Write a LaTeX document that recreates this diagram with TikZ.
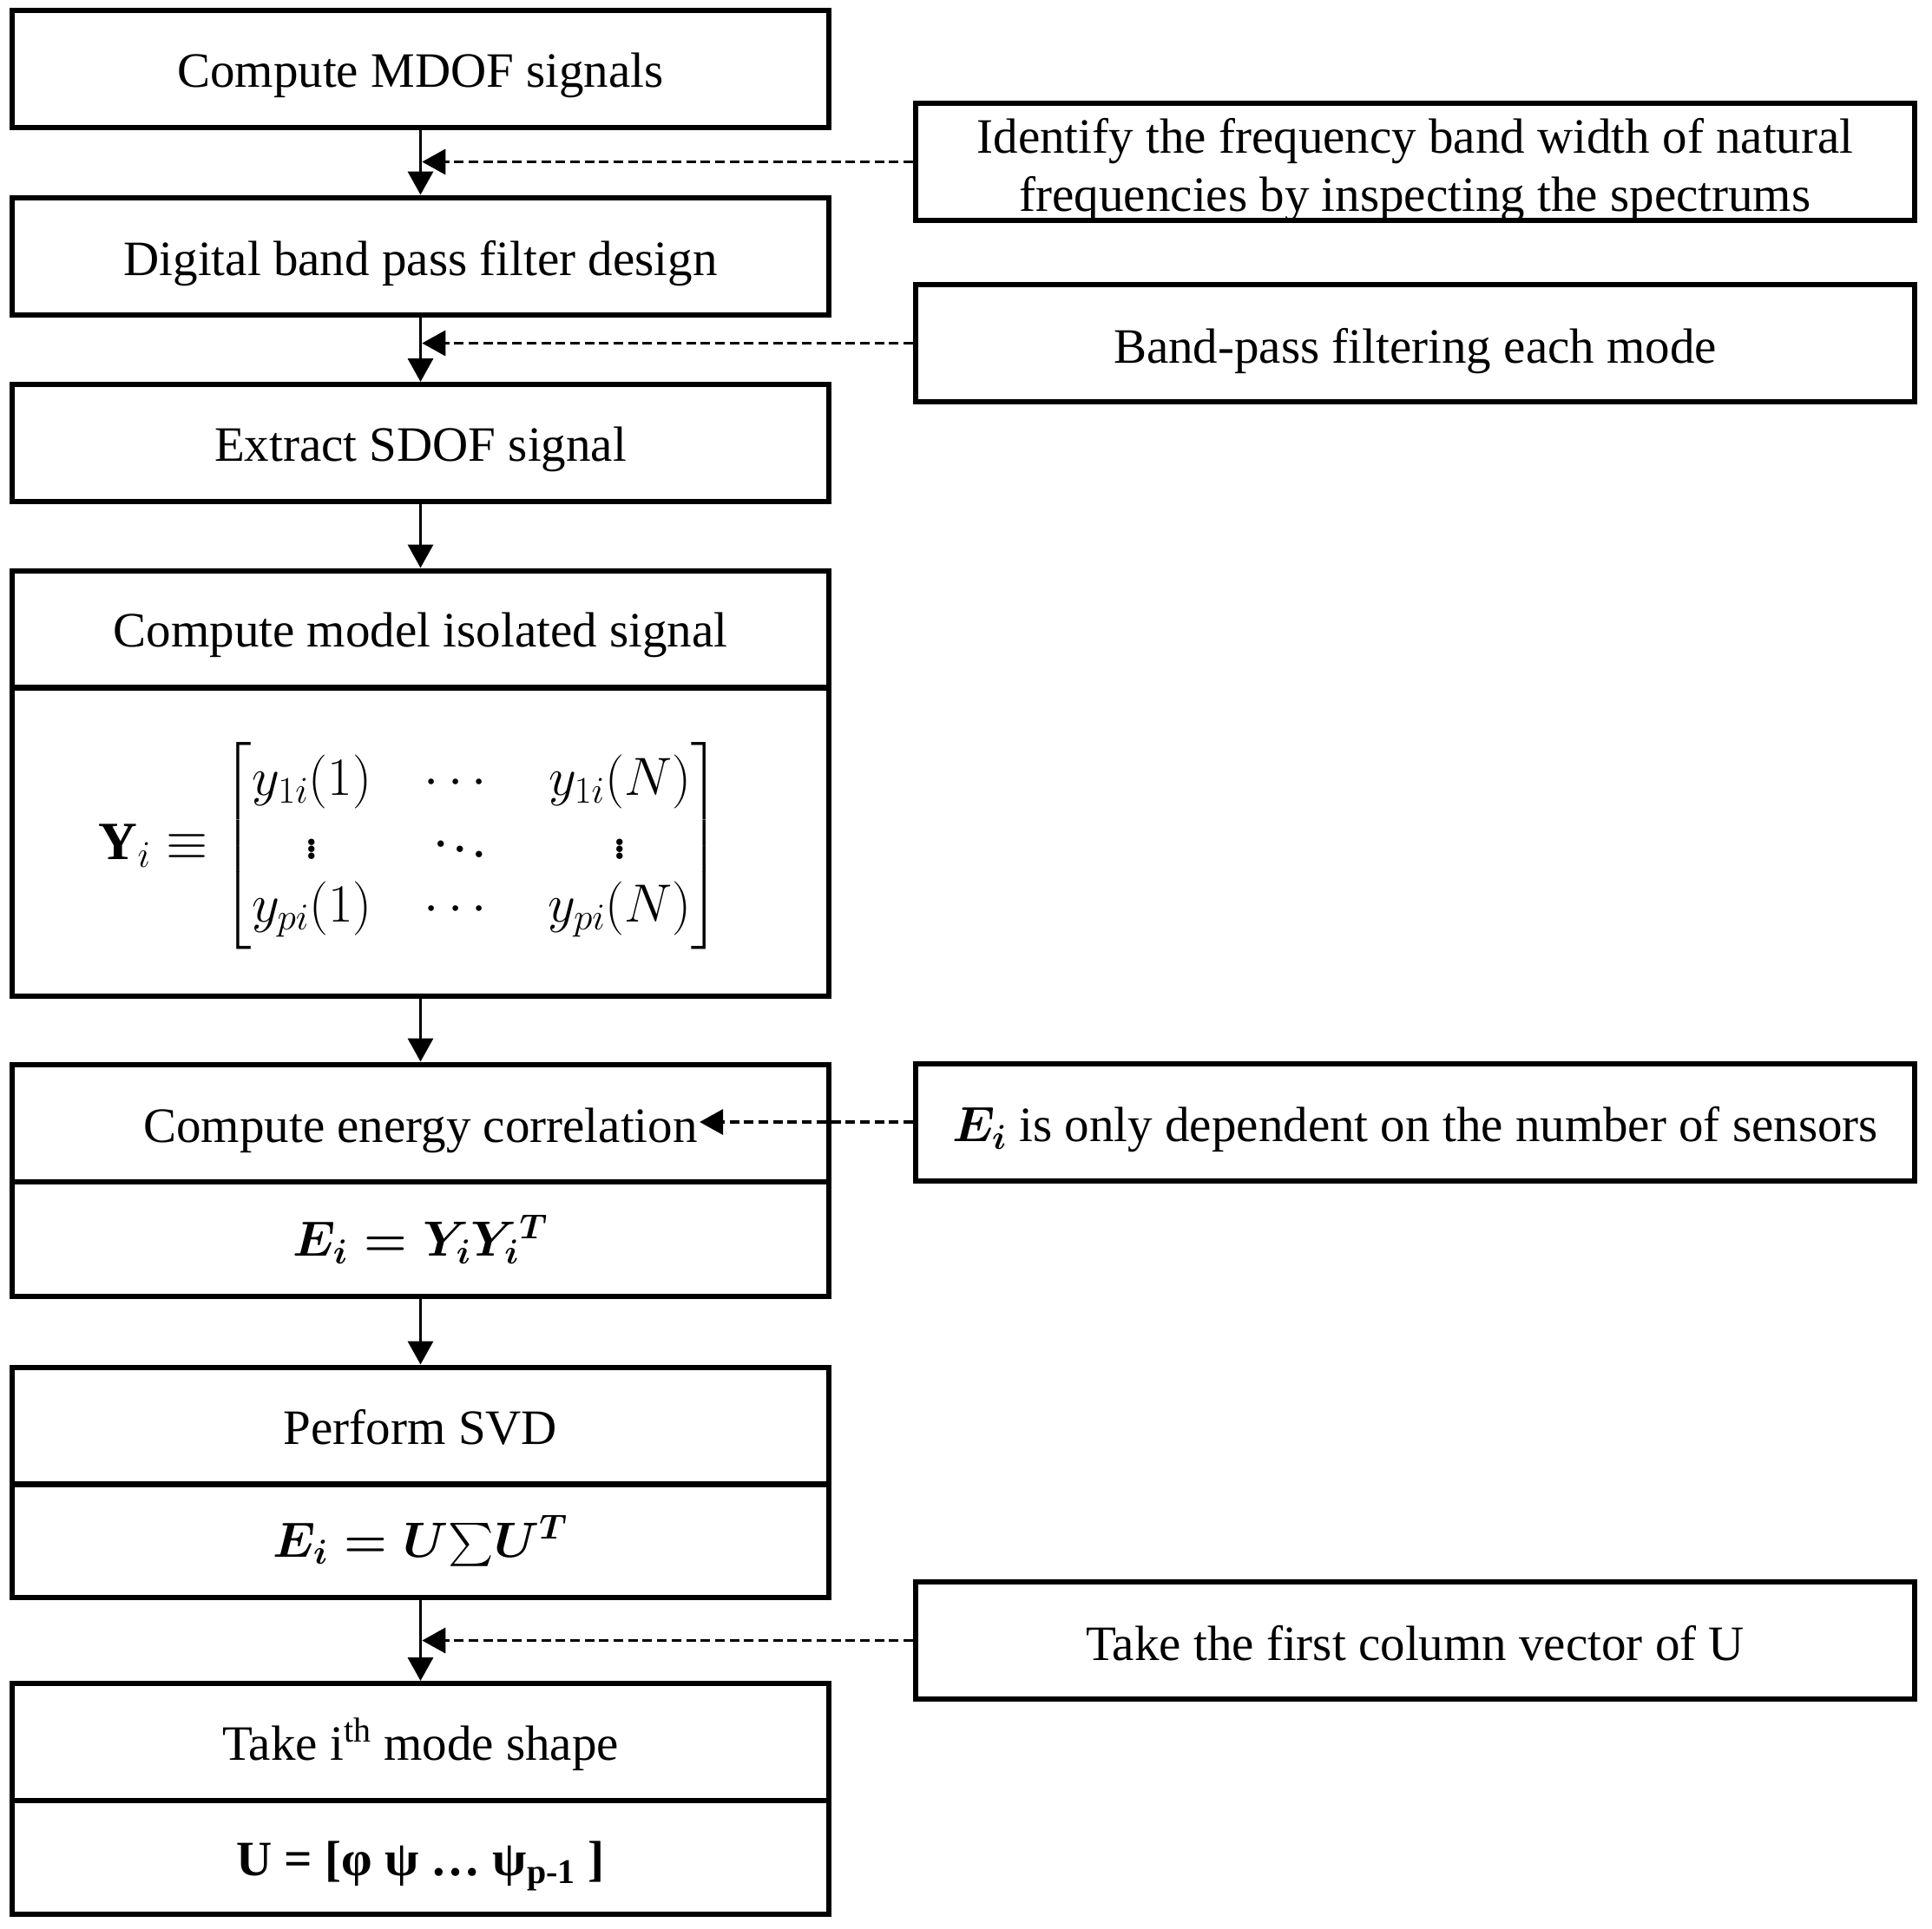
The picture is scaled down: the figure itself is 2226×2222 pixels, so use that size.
\RequirePackage{fix-cm}
\documentclass[tikz,border=0pt]{standalone}
\usepackage{amsmath}
\usepackage{fontspec}
\setmainfont{Liberation Serif}
\usetikzlibrary{arrows.meta}
\newcommand{\boxfont}{\fontsize{28.5}{33.5}\selectfont}
\newcommand{\matfont}{\fontsize{31}{36.5}\selectfont}
\newcommand{\lowr}[2]{\raisebox{-#1}[\height][\depth]{#2}}
\begin{document}
\begin{tikzpicture}[x=0.5pt,y=-0.5pt,
  box/.style={draw, line width=3pt, minimum width=470.5pt, minimum height=67.5pt, inner sep=0pt, align=center, font=\boxfont},
  rbox/.style={box, minimum width=575.5pt},
  txt/.style={inner sep=1pt, font=\boxfont},
  arr/.style={line width=1.8pt, -{Triangle[length=13.5pt,width=14.5pt]}},
  darr/.style={arr, dash pattern=on 5.5pt off 2.85pt},
]
\useasboundingbox (0,0) rectangle (2226,2222);
% left column
\node[box] (b1) at (484.5,79.5) {\lowr{3.6pt}{Compute MDOF signals}};
\node[box] (b2) at (484.5,295) {\lowr{4.3pt}{Digital band pass filter design}};
\node[box] (b3) at (484.5,510.5) {\lowr{3.6pt}{Extract SDOF signal}};
\node[box] (b4t) at (484.5,725) {\lowr{3.6pt}{Compute model isolated signal}};
\node[box, minimum height=178pt] (b4b) at (484.5,970) {};
\node[txt, font=\matfont] (ymat) at (472,975) {\setlength{\arraycolsep}{15pt}$\mathbf{Y}_{i}\equiv\begin{bmatrix} y_{1i}(1) & \cdots & y_{1i}(N)\\ \vdots & \ddots & \vdots\\ y_{pi}(1) & \cdots & y_{pi}(N)\end{bmatrix}$};
\node[box] (b5t) at (484.5,1294) {};
\node[txt, yshift=-4.3pt] (ce) at (b5t) {Compute energy correlation};
\node[box, minimum height=66pt] (b5b) at (484.5,1428) {$\boldsymbol{E_i = Y_i Y_i{}^{T}}$};
\node[box] (b6t) at (484.5,1643) {\lowr{0.7pt}{Perform SVD}};
\node[box, minimum height=65.5pt] (b6b) at (484.5,1775.5) {$\boldsymbol{E_i = U\mathord{\sum} U^{T}}$};
\node[box] (b7t) at (484.5,2007.5) {\lowr{1.4pt}{Take i\textsuperscript{th} mode shape}};
\node[box, minimum height=65.5pt] (b7b) at (484.5,2140.5) {\lowr{5pt}{\textbf{U = [φ ψ … ψ\textsubscript{p-1} ]}}};
% right column
\node[rbox] (r1) at (1630.5,186.5) {\lowr{5pt}{\begin{tabular}{@{}c@{}}Identify the frequency band width of natural\\frequencies by inspecting the spectrums\end{tabular}}};
\node[rbox] (r2) at (1630.5,395.5) {\lowr{4.3pt}{Band-pass filtering each mode}};
\node[rbox] (r3) at (1630.5,1293) {\lowr{4.3pt}{$\boldsymbol{E_i}$ is only dependent on the number of sensors}};
\node[rbox] (r4) at (1630.5,1890.5) {\lowr{1.4pt}{Take the first column vector of U}};
% main flow
\draw[arr] (b1.south) -- (b2.north);
\draw[arr] (b2.south) -- (b3.north);
\draw[arr] (b3.south) -- (b4t.north);
\draw[arr] (b4b.south) -- (b5t.north);
\draw[arr] (b5b.south) -- (b6t.north);
\draw[arr] (b6b.south) -- (b7t.north);
% side inputs
\coordinate (j1) at (r1.west -| b1.south);
\coordinate (j2) at (r2.west -| b2.south);
\coordinate (j3) at (r3.west -| ce.east);
\coordinate (j4) at (r4.west -| b6b.south);
\draw[darr] (r1.west) -- ([xshift=0.9pt]j1);
\draw[darr] (r2.west) -- ([xshift=0.9pt]j2);
\draw[darr] (r3.west) -- (j3);
\draw[darr] (r4.west) -- ([xshift=0.9pt]j4);
\end{tikzpicture}
\end{document}
